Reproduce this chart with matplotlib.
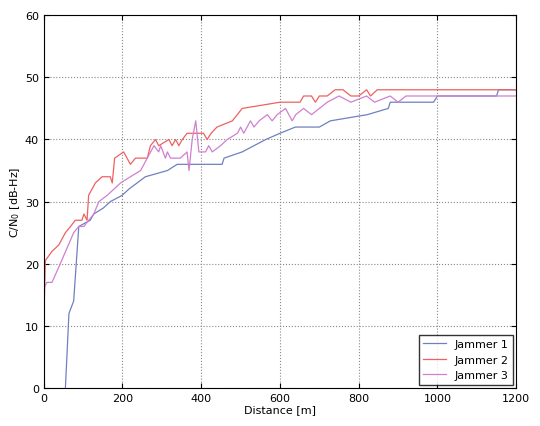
import matplotlib.pyplot as plt

# Jammer 1 (blue)
j1_x = [55, 64, 76, 89, 118, 127, 152, 169, 199, 216, 237, 258, 314, 339, 453, 458, 504, 534, 564, 600, 639, 700, 728, 822, 875, 880, 990, 1000, 1150, 1155, 1200]
j1_y = [0, 12, 14, 26, 27, 28, 29, 30, 31, 32, 33, 34, 35, 36, 36, 37, 38, 39, 40, 41, 42, 42, 43, 44, 45, 46, 46, 47, 47, 48, 48]
# Jammer 2 (red)
j2_x = [0, 4, 21, 38, 55, 68, 80, 97, 102, 110, 114, 131, 148, 169, 174, 180, 203, 220, 233, 263, 271, 284, 292, 318, 326, 335, 343, 352, 364, 406, 415, 425, 440, 479, 504, 600, 651, 660, 680, 690, 700, 720, 740, 760, 780, 800, 820, 830, 847, 1200]
j2_y = [10, 20.5, 22, 23, 25, 26, 27, 27, 28, 27, 31, 33, 34, 34, 33, 37, 38, 36, 37, 37, 39, 40, 39, 40, 39, 40, 39, 40, 41, 41, 40, 41, 42, 43, 45, 46, 46, 47, 47, 46, 47, 47, 48, 48, 47, 47, 48, 47, 48, 48]
# Jammer 3 (magenta)
j3_x = [0, 8, 21, 42, 76, 89, 102, 114, 127, 140, 161, 178, 195, 220, 246, 280, 292, 297, 309, 314, 322, 347, 364, 369, 377, 386, 394, 411, 419, 428, 449, 466, 492, 500, 508, 525, 534, 547, 568, 580, 593, 614, 631, 640, 660, 680, 700, 720, 750, 780, 820, 840, 880, 900, 920, 1200]
j3_y = [16, 17, 17, 20, 25, 26, 26, 27, 28, 30, 31, 32, 33, 34, 35, 39, 38, 39, 37, 38, 37, 37, 38, 35, 40, 43, 38, 38, 39, 38, 39, 40, 41, 42, 41, 43, 42, 43, 44, 43, 44, 45, 43, 44, 45, 44, 45, 46, 47, 46, 47, 46, 47, 46, 47, 47]

fig = plt.figure(figsize=(5.4, 4.27), dpi=100)
ax = fig.add_axes([0.081, 0.089, 0.875, 0.873])
ax.plot(j1_x, j1_y, color='#7080c0', lw=0.9, label='Jammer 1')
ax.plot(j2_x, j2_y, color='#f06060', lw=0.9, label='Jammer 2')
ax.plot(j3_x, j3_y, color='#d080d0', lw=0.9, label='Jammer 3')
ax.set_xlim(0, 1200)
ax.set_ylim(0, 60)
ax.set_xticks(range(0, 1201, 200))
ax.set_yticks(range(0, 61, 10))
ax.grid(True, linestyle=':', color='#888888', lw=0.8)
ax.tick_params(labelsize=8, direction='in', top=True, right=True)
ax.set_xlabel('Distance [m]', fontsize=8, labelpad=1)
ax.set_ylabel('C/N$_0$ [dB-Hz]', fontsize=8, labelpad=2)
ax.legend(loc='lower right', fontsize=8, fancybox=False, edgecolor='black', borderaxespad=0.3)
fig.savefig('out.png', dpi=100)
